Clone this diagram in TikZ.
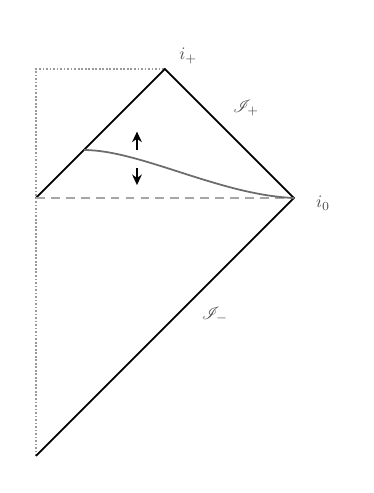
\documentclass[tikz,border=0pt]{standalone}
\usepackage{mathrsfs}
\usetikzlibrary{arrows.meta}
\begin{document}
\begin{tikzpicture}[x=2.58cm,y=2.58cm,
  edge/.style={line width=1pt,black},
  horizon/.style={line width=0.9pt,gray!70,dash pattern=on 5pt off 3.5pt},
  border/.style={line width=1pt,gray!80,dash pattern=on 1pt off 1pt},
  wall/.style={line width=1pt,gray!85!black},
  push/.style={-{Stealth[length=6pt,width=5.5pt]},line width=1.2pt},
  lbl/.style={text=black!70}]
\useasboundingbox (-0.279,-2.287) rectangle (2.620,1.535);
\coordinate (L) at (0,0);
\coordinate (T) at (1,1);
\coordinate (R) at (2,0);
\coordinate (B) at (0,-2);
\coordinate (C) at (0,1);
\coordinate (S) at (0.372,0.372);
% dotted frame
\draw[border] (B) -- (C) -- (T);
% null boundaries
\draw[edge] (L) -- (T) -- (R) -- (B);
\draw[horizon] (L) -- (R);
% moving shell
\draw[wall] (S) .. controls (0.806,0.372) and (1.426,0.023) .. (R);
\coordinate (u0) at (0.783,0.372);
\coordinate (u1) at (0.783,0.515);
\coordinate (d0) at (0.783,0.233);
\coordinate (d1) at (0.783,0.100);
\draw[push] (u0) -- (u1);
\draw[push] (d0) -- (d1);
% labels
\node[lbl] (iplus) at (1.18,1.10) {$i_+$};
\node[lbl] (scriplus) at (1.628,0.698) {$\mathscr{I}_+$};
\node[lbl] (izero) at (2.225,-0.039) {$i_0$};
\node[lbl] (scriminus) at (1.388,-0.907) {$\mathscr{I}_-$};
\end{tikzpicture}
\end{document}
